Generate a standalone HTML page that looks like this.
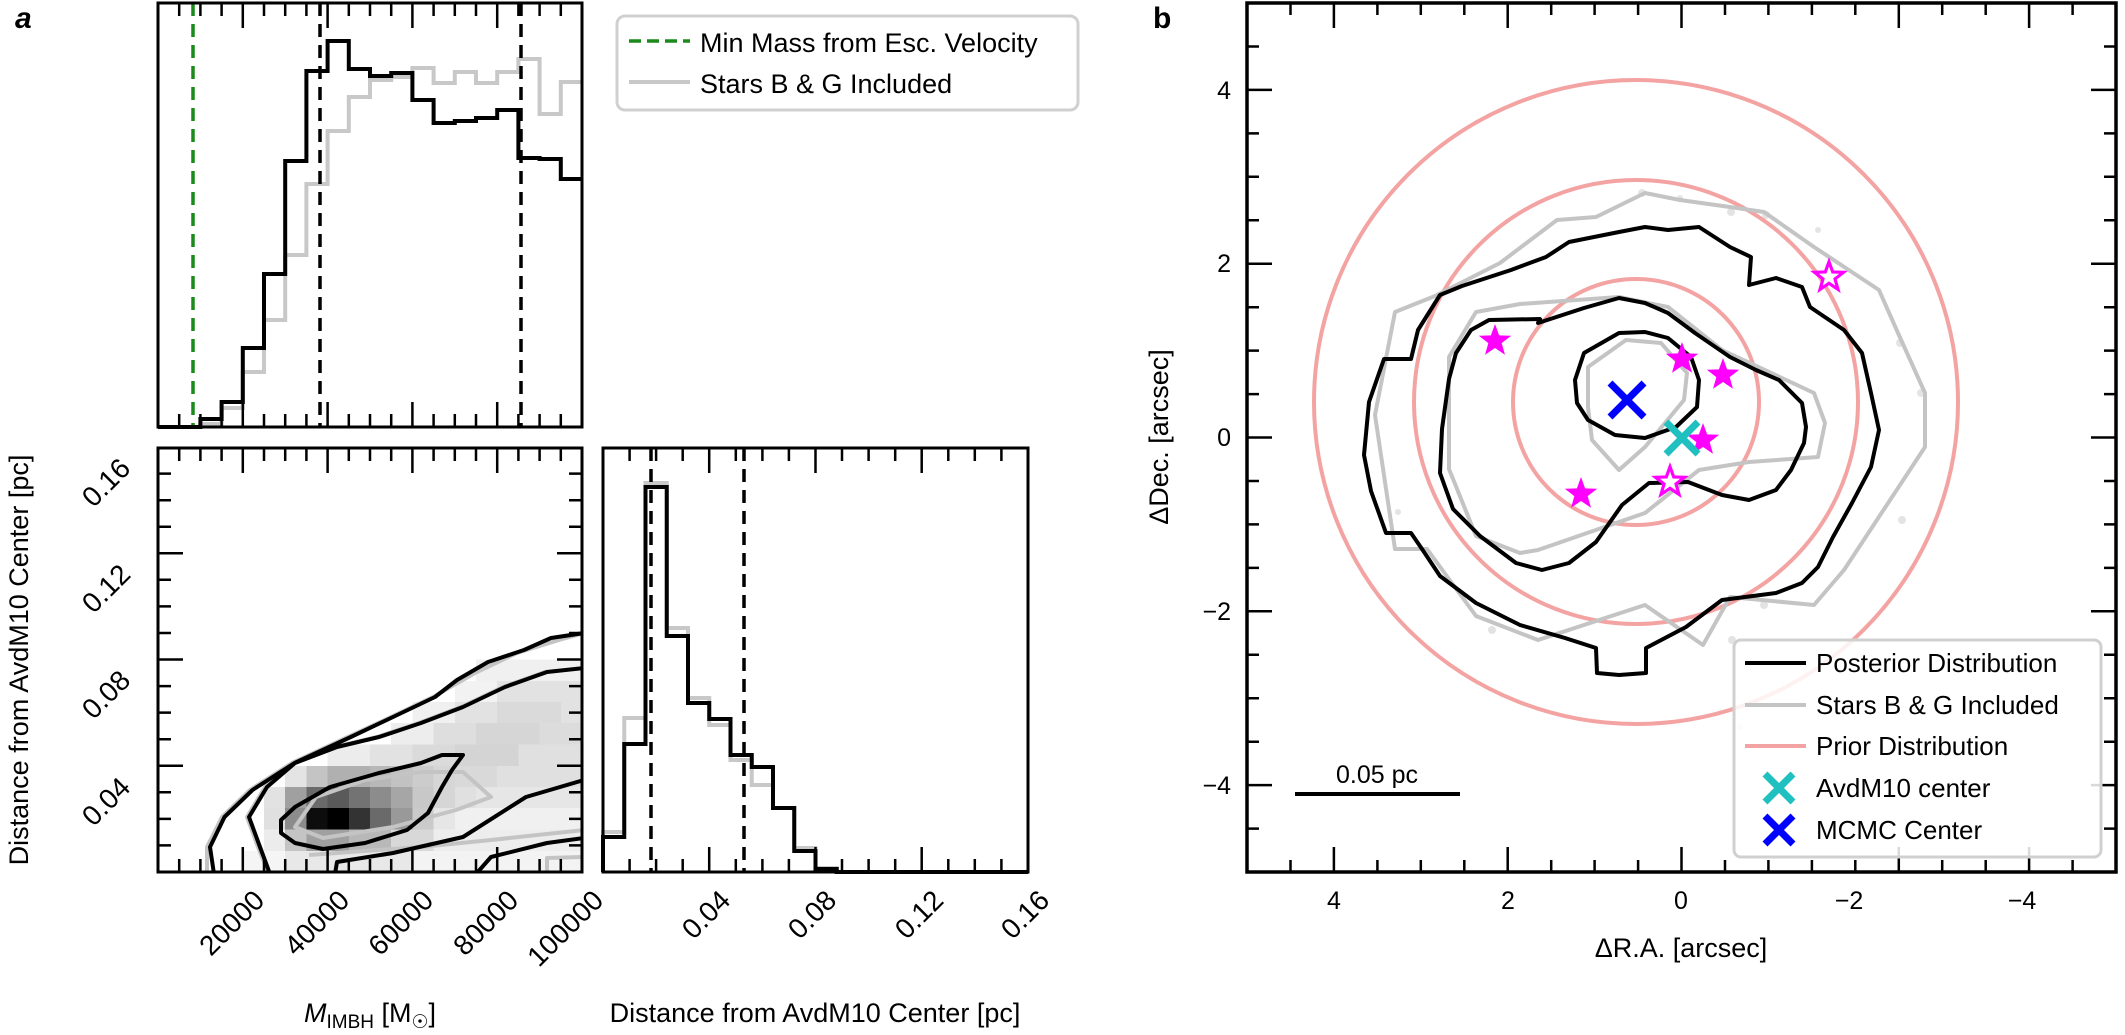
<!DOCTYPE html>
<html><head><meta charset="utf-8"><style>
html,body{margin:0;padding:0;background:#fff}
svg{display:block}
text{font-family:"Liberation Sans",Arial,sans-serif;fill:#000}
</style></head><body>
<svg width="2125" height="1035" viewBox="0 0 2125 1035" xmlns="http://www.w3.org/2000/svg">
<defs>
<path id="st" d="M0,-17 L4.11,-5.66 L16.17,-5.25 L6.66,2.16 L9.99,13.75 L0,7 L-9.99,13.75 L-6.66,2.16 L-16.17,-5.25 L-4.11,-5.66Z"/>
<clipPath id="cb"><rect x="1247" y="3" width="869" height="869"/></clipPath>
<clipPath id="c2"><rect x="158" y="448" width="424" height="424"/></clipPath>
</defs>
<rect width="2125" height="1035" fill="#fff"/>

<!-- ===== Panel a ===== -->
<text x="15" y="28" font-size="30" font-weight="bold" font-style="italic">a</text>

<path d="M193,3 V427" stroke="#1a8a1a" stroke-width="3.5" stroke-dasharray="13,8" fill="none"/>
<path d="M158,427 H200.4 V424 H221.6 V408 H242.8 V372 H264 V320 H285.2 V255 H306.4 V184 H327.6 V131 H348.8 V97 H370 V80 H391.2 V77 H412.4 V68 H433.6 V83 H454.8 V72 H476 V83 H497.2 V72 H518.4 V59 H539.6 V114 H560.8 V82 H582" stroke="#c8c8c8" stroke-width="4" fill="none"/>
<path d="M158,427 H200.4 V419 H221.6 V402 H242.8 V348 H264 V274 H285.2 V161 H306.4 V71 H327.6 V41 H348.8 V69 H370 V76 H391.2 V73 H412.4 V100 H433.6 V123 H454.8 V121 H476 V118 H497.2 V110 H518.4 V158 H539.6 V159 H560.8 V179 H582" stroke="#000" stroke-width="4" fill="none"/>
<path d="M320,3 V427 M521,3 V427" stroke="#000" stroke-width="3.5" stroke-dasharray="13,8" fill="none"/>
<rect x="158" y="3" width="424" height="424" fill="none" stroke="#000" stroke-width="3"/>
<path stroke="#000" stroke-width="2.5" fill="none" d="
M179.2,3v13M200.4,3v13M221.6,3v13M242.8,3v25M264,3v13M285.2,3v13M306.4,3v13M327.6,3v25M348.8,3v13M370,3v13M391.2,3v13M412.4,3v25M433.6,3v13M454.8,3v13M476,3v13M497.2,3v25M518.4,3v13M539.6,3v13M560.8,3v13
M179.2,427v-13M200.4,427v-13M221.6,427v-13M242.8,427v-25M264,427v-13M285.2,427v-13M306.4,427v-13M327.6,427v-25M348.8,427v-13M370,427v-13M391.2,427v-13M412.4,427v-25M433.6,427v-13M454.8,427v-13M476,427v-13M497.2,427v-25M518.4,427v-13M539.6,427v-13M560.8,427v-13"/>

<rect x="617" y="16" width="461" height="94" rx="8" fill="#fff" stroke="#d0d0d0" stroke-width="3"/>
<path d="M629,41 H690" stroke="#1a8a1a" stroke-width="3.5" stroke-dasharray="12,6"/>
<path d="M629,82 H690" stroke="#c8c8c8" stroke-width="4"/>
<text x="700" y="52" font-size="27">Min Mass from Esc. Velocity</text>
<text x="700" y="93" font-size="27">Stars B &amp; G Included</text>

<g clip-path="url(#c2)">
<g shape-rendering="crispEdges">
<rect x="242.8" y="851" width="42.4" height="21" fill="#f5f5f5"/>
<rect x="285.2" y="851" width="127.2" height="21" fill="#e8e8e8"/>
<rect x="412.4" y="851" width="169.6" height="21" fill="#f3f3f3"/>
<rect x="264" y="829.5" width="21.2" height="21.5" fill="#ececec"/>
<rect x="285.2" y="829.5" width="21.2" height="21.5" fill="#c4c4c4"/>
<rect x="306.4" y="829.5" width="42.4" height="21.5" fill="#a0a0a0"/>
<rect x="348.8" y="829.5" width="42.4" height="21.5" fill="#b8b8b8"/>
<rect x="391.2" y="829.5" width="42.4" height="21.5" fill="#d8d8d8"/>
<rect x="433.6" y="829.5" width="148.4" height="21.5" fill="#ededed"/>
<rect x="264" y="808" width="21.2" height="21.5" fill="#e0e0e0"/>
<rect x="285.2" y="808" width="21.2" height="21.5" fill="#8c8c8c"/>
<rect x="306.4" y="808" width="21.2" height="21.5" fill="#0d0d0d"/>
<rect x="327.6" y="808" width="21.2" height="21.5" fill="#000"/>
<rect x="348.8" y="808" width="21.2" height="21.5" fill="#333"/>
<rect x="370" y="808" width="21.2" height="21.5" fill="#6a6a6a"/>
<rect x="391.2" y="808" width="21.2" height="21.5" fill="#999"/>
<rect x="412.4" y="808" width="21.2" height="21.5" fill="#cacaca"/>
<rect x="433.6" y="808" width="21.2" height="21.5" fill="#e6e6e6"/>
<rect x="454.8" y="808" width="127.2" height="21.5" fill="#f0f0f0"/>
<rect x="264" y="787" width="21.2" height="21" fill="#e2e2e2"/>
<rect x="285.2" y="787" width="21.2" height="21" fill="#a0a0a0"/>
<rect x="306.4" y="787" width="21.2" height="21" fill="#6a6a6a"/>
<rect x="327.6" y="787" width="21.2" height="21" fill="#5a5a5a"/>
<rect x="348.8" y="787" width="21.2" height="21" fill="#737373"/>
<rect x="370" y="787" width="21.2" height="21" fill="#8c8c8c"/>
<rect x="391.2" y="787" width="21.2" height="21" fill="#a6a6a6"/>
<rect x="412.4" y="787" width="21.2" height="21" fill="#c8c8c8"/>
<rect x="433.6" y="787" width="21.2" height="21" fill="#d6d6d6"/>
<rect x="454.8" y="787" width="21.2" height="21" fill="#e0e0e0"/>
<rect x="476" y="787" width="106" height="21" fill="#e6e6e6"/>
<rect x="285.2" y="766" width="21.2" height="21" fill="#e4e4e4"/>
<rect x="306.4" y="766" width="21.2" height="21" fill="#c4c4c4"/>
<rect x="327.6" y="766" width="42.4" height="21" fill="#b0b0b0"/>
<rect x="370" y="766" width="21.2" height="21" fill="#b8b8b8"/>
<rect x="391.2" y="766" width="21.2" height="21" fill="#c2c2c2"/>
<rect x="412.4" y="766" width="21.2" height="21" fill="#cccccc"/>
<rect x="433.6" y="766" width="21.2" height="21" fill="#d6d6d6"/>
<rect x="454.8" y="766" width="42.4" height="21" fill="#d9d9d9"/>
<rect x="497.2" y="766" width="84.8" height="21" fill="#e0e0e0"/>
<rect x="327.6" y="744.5" width="42.4" height="21.5" fill="#ececec"/>
<rect x="370" y="744.5" width="42.4" height="21.5" fill="#e2e2e2"/>
<rect x="412.4" y="744.5" width="42.4" height="21.5" fill="#dadada"/>
<rect x="454.8" y="744.5" width="63.6" height="21.5" fill="#d4d4d4"/>
<rect x="518.4" y="744.5" width="63.6" height="21.5" fill="#e0e0e0"/>
<rect x="391.2" y="723" width="42.4" height="21.5" fill="#ededed"/>
<rect x="433.6" y="723" width="42.4" height="21.5" fill="#dedede"/>
<rect x="476" y="723" width="63.6" height="21.5" fill="#d6d6d6"/>
<rect x="539.6" y="723" width="42.4" height="21.5" fill="#dcdcdc"/>
<rect x="412.4" y="702" width="42.4" height="21" fill="#f0f0f0"/>
<rect x="454.8" y="702" width="42.4" height="21" fill="#e2e2e2"/>
<rect x="497.2" y="702" width="63.6" height="21" fill="#dadada"/>
<rect x="560.8" y="702" width="21.2" height="21" fill="#e2e2e2"/>
<rect x="454.8" y="681" width="42.4" height="21" fill="#f2f2f2"/>
<rect x="497.2" y="681" width="84.8" height="21" fill="#e2e2e2"/>
<rect x="476" y="659.5" width="106" height="21.5" fill="#f0f0f0"/>
</g>
<g stroke="#c4c4c4" stroke-width="4" fill="none" stroke-linejoin="round">
<path d="M207,872 L207,847 L222,817 L250,790 L292,763 L348,737 L391,717 L433,697 L475,673 L517,653 L559,640 L584,633"/>
<path d="M268,872 L258,847 L247,817 L265,787 L293,763 L335,747 L377,737 L419,723 L461,707 L503,687 L545,672 L584,668"/>
<path d="M295,827 L316,797 L365,780 L421,772 L463,772 L491,797 L456,810 L393,827 L323,838 Z"/>
<path d="M309,855 L421,847 L491,840 L584,830"/>
<path d="M547,872 L547,858 L584,857"/>
</g>
<g stroke="#000" stroke-width="4" fill="none" stroke-linejoin="round">
<path d="M214,874 L210,847 L224.5,817 L252.5,790 L294.6,763 L350.8,737 L393,717 L435,697 L457,680 L488,662 L524,650 L551,638 L584,633"/>
<path d="M476,874 L491,857 L547,843 L584,838"/>
<path d="M584,668 L547,672 L505,687 L463,707 L421,723 L379,737 L337,747 L295,763 L267,787 L249,817 L260,847 L270,874"/>
<path d="M335,874 L337,862 L393,853 L463,837 L526,797 L584,780"/>
<path d="M281,820 L295,807 L330,787 L379,773 L421,763 L442,755 L463,755 L452,770 L442,787 L428,813 L407,830 L365,843 L323,849 L295,843 L281,833 Z"/>
</g>
</g>
<rect x="158" y="448" width="424" height="424" fill="none" stroke="#000" stroke-width="3"/>
<path stroke="#000" stroke-width="2.5" fill="none" d="
M179.2,448v13M200.4,448v13M221.6,448v13M242.8,448v25M264,448v13M285.2,448v13M306.4,448v13M327.6,448v25M348.8,448v13M370,448v13M391.2,448v13M412.4,448v25M433.6,448v13M454.8,448v13M476,448v13M497.2,448v25M518.4,448v13M539.6,448v13M560.8,448v13
M179.2,872v-13M200.4,872v-13M221.6,872v-13M242.8,872v-25M264,872v-13M285.2,872v-13M306.4,872v-13M327.6,872v-25M348.8,872v-13M370,872v-13M391.2,872v-13M412.4,872v-25M433.6,872v-13M454.8,872v-13M476,872v-13M497.2,872v-25M518.4,872v-13M539.6,872v-13M560.8,872v-13
M158,845.4h13M158,818.9h13M158,792.3h13M158,765.8h25M158,739.2h13M158,712.6h13M158,686.1h13M158,659.5h25M158,633h13M158,606.4h13M158,579.8h13M158,553.3h25M158,526.7h13M158,500.2h13M158,473.6h13
M582,845.4h-13M582,818.9h-13M582,792.3h-13M582,765.8h-25M582,739.2h-13M582,712.6h-13M582,686.1h-13M582,659.5h-25M582,633h-13M582,606.4h-13M582,579.8h-13M582,553.3h-25M582,526.7h-13M582,500.2h-13M582,473.6h-13"/>

<path d="M603,872 V832 H624.25 V718 H645.5 V483 H666.75 V628 H688 V698 H709.25 V725 H730.5 V760 H751.75 V785 H773 V808 H794.25 V848 H815.5 V868 H836.75 V872 H1028" stroke="#c8c8c8" stroke-width="4" fill="none"/>
<path d="M603,872 V837 H624.25 V744 H645.5 V487 H666.75 V636 H688 V703 H709.25 V719 H730.5 V755 H751.75 V767 H773 V808 H794.25 V851 H815.5 V869 H836.75 V872 H1028" stroke="#000" stroke-width="4" fill="none"/>
<path d="M651,448 V872 M744,448 V872" stroke="#000" stroke-width="3.5" stroke-dasharray="13,8" fill="none"/>
<rect x="603" y="448" width="425" height="424" fill="none" stroke="#000" stroke-width="3"/>
<path stroke="#000" stroke-width="2.5" fill="none" d="
M629.6,448v13M656.1,448v13M682.7,448v13M709.2,448v25M735.8,448v13M762.4,448v13M788.9,448v13M815.5,448v25M842,448v13M868.6,448v13M895.2,448v13M921.7,448v25M948.3,448v13M974.8,448v13M1001.4,448v13
M629.6,872v-13M656.1,872v-13M682.7,872v-13M709.2,872v-25M735.8,872v-13M762.4,872v-13M788.9,872v-13M815.5,872v-25M842,872v-13M868.6,872v-13M895.2,872v-13M921.7,872v-25M948.3,872v-13M974.8,872v-13M1001.4,872v-13"/>

<g font-size="28">
<text transform="translate(132,470) rotate(-45)" text-anchor="end">0.16</text>
<text transform="translate(132,576) rotate(-45)" text-anchor="end">0.12</text>
<text transform="translate(132,682) rotate(-45)" text-anchor="end">0.08</text>
<text transform="translate(132,789) rotate(-45)" text-anchor="end">0.04</text>
<text transform="translate(266,902) rotate(-45)" text-anchor="end">20000</text>
<text transform="translate(351,902) rotate(-45)" text-anchor="end">40000</text>
<text transform="translate(435,902) rotate(-45)" text-anchor="end">60000</text>
<text transform="translate(520,902) rotate(-45)" text-anchor="end">80000</text>
<text transform="translate(605,902) rotate(-45)" text-anchor="end">100000</text>
<text transform="translate(732,902) rotate(-45)" text-anchor="end">0.04</text>
<text transform="translate(838,902) rotate(-45)" text-anchor="end">0.08</text>
<text transform="translate(945,902) rotate(-45)" text-anchor="end">0.12</text>
<text transform="translate(1051,902) rotate(-45)" text-anchor="end">0.16</text>
</g>
<text transform="translate(28,660) rotate(-90)" text-anchor="middle" font-size="27">Distance from AvdM10 Center [pc]</text>
<text x="370" y="1022" text-anchor="middle" font-size="27"><tspan font-style="italic">M</tspan><tspan font-size="19" dy="6">IMBH</tspan><tspan dy="-6"> [M</tspan><tspan font-size="19" dy="6">☉</tspan><tspan dy="-6">]</tspan></text>
<text x="815" y="1022" text-anchor="middle" font-size="27">Distance from AvdM10 Center [pc]</text>

<!-- ===== Panel b ===== -->
<text x="1153" y="28" font-size="30" font-weight="bold">b</text>
<g clip-path="url(#cb)">
<g fill="#d8d8d8" opacity="0.7">
<circle cx="1642" cy="193" r="4"/><circle cx="1680" cy="198" r="3"/><circle cx="1731" cy="212" r="4"/><circle cx="1766" cy="215" r="4"/><circle cx="1818" cy="230" r="3"/><circle cx="1900" cy="343" r="4"/><circle cx="1921" cy="393" r="4"/><circle cx="1902" cy="520" r="4"/><circle cx="1764" cy="605" r="4"/><circle cx="1732" cy="640" r="4"/><circle cx="1492" cy="630" r="4"/><circle cx="1398" cy="512" r="3"/><circle cx="1740" cy="727" r="3"/>
</g>
<g stroke="#f4a3a3" stroke-width="4" fill="none">
<circle cx="1636" cy="402" r="123"/><circle cx="1636" cy="402" r="222"/><circle cx="1636" cy="402" r="322"/>
</g>
<g stroke="#c4c4c4" stroke-width="4" fill="none" stroke-linejoin="round">
<path d="M1395,312 L1375,415 L1395,549 L1427,549 L1476,616 L1538,640 L1645,605 L1703,645 L1730,597 L1814,605 L1844,570 L1925,447 L1925,393 L1898,333 L1879,290 L1814,247 L1764,212 L1730,207 L1680,200 L1645,193 L1596,217 L1557,220 L1500,263 L1435,296 Z"/>
<path d="M1619,297 L1668,307 L1722,350 L1814,393 L1825,423 L1818,457 L1749,462 L1699,470 L1645,513 L1538,550 L1520,553 L1476,536 L1449,469 L1449,357 L1476,312 L1520,304 Z"/>
<path d="M1588,367 L1626,340 L1661,343 L1687,373 L1684,400 L1665,423 L1645,447 L1619,470 L1592,440 L1588,407 Z"/>
</g>
<g stroke="#000" stroke-width="4" fill="none" stroke-linejoin="round">
<path d="M1575,380 L1584,353 L1619,333 L1645,332 L1668,338 L1691,357 L1699,380 L1697,407 L1676,427 L1645,438 L1615,435 L1588,420 L1577,403 Z"/>
<path d="M1540,319 L1489,320 L1471,330 L1456,353 L1449,379 L1442,429 L1440,473 L1453,509 L1480,536 L1516,563 L1542,570 L1569,563 L1596,542 L1622,505 L1649,483 L1688,482 L1722,495 L1749,500 L1776,490 L1791,470 L1804,443 L1806,427 L1802,403 L1779,380 L1756,370 L1730,357 L1695,333 L1668,313 L1645,303 L1619,298 L1584,308 L1538,323 Z"/>
<path d="M1546,257 L1511,270 L1462,286 L1440,295 L1418,330 L1411,359 L1384,359 L1369,402 L1364,455 L1371,491 L1386,533 L1411,533 L1422,549 L1440,576 L1476,603 L1520,625 L1565,638 L1596,648 L1597,673 L1619,675 L1646,673 L1646,648 L1686,627 L1722,600 L1776,593 L1802,583 L1818,567 L1833,537 L1852,503 L1871,467 L1879,430 L1871,393 L1862,353 L1844,330 L1810,307 L1802,287 L1776,278 L1749,285 L1751,257 L1730,247 L1699,227 L1668,230 L1645,227 L1619,232 L1569,242 Z"/>
</g>
</g>
<g fill="#ff00ff">
<use href="#st" transform="translate(1495,341)"/>
<use href="#st" transform="translate(1581,494)"/>
<use href="#st" transform="translate(1682,359)"/>
<use href="#st" transform="translate(1723,375)"/>
<use href="#st" transform="translate(1703,440)"/>
</g>
<g fill="#fff" stroke="#ff00ff" stroke-width="3.5">
<use href="#st" transform="translate(1829,277) scale(0.9)"/>
<use href="#st" transform="translate(1670,482) scale(0.9)"/>
</g>
<path d="M1610,383 L1644,417 M1644,383 L1610,417" stroke="#0000ff" stroke-width="7"/>
<path d="M1666,422 L1698,454 M1698,422 L1666,454" stroke="#20c0c0" stroke-width="7"/>

<rect x="1247" y="3" width="869" height="869" fill="none" stroke="#000" stroke-width="3.5"/>
<path stroke="#000" stroke-width="2.5" fill="none" d="
M1290.5,3v12M1333.9,3v25M1377.4,3v12M1420.8,3v12M1464.3,3v12M1507.7,3v25M1551.2,3v12M1594.6,3v12M1638.1,3v12M1681.5,3v25M1725,3v12M1768.4,3v12M1811.9,3v12M1855.3,3v12M1898.8,3v25M1942.2,3v12M1985.7,3v12M2029.1,3v25M2072.6,3v12
M1290.5,872v-12M1333.9,872v-25M1377.4,872v-12M1420.8,872v-12M1464.3,872v-12M1507.7,872v-25M1551.2,872v-12M1594.6,872v-12M1638.1,872v-12M1681.5,872v-25M1725,872v-12M1768.4,872v-12M1811.9,872v-12M1855.3,872v-12M1898.8,872v-25M1942.2,872v-12M1985.7,872v-12M2029.1,872v-25M2072.6,872v-12
M1247,46.5h12M1247,89.9h25M1247,133.4h12M1247,176.8h12M1247,220.3h12M1247,263.7h25M1247,307.2h12M1247,350.6h12M1247,394.1h12M1247,437.5h25M1247,481h12M1247,524.4h12M1247,567.9h12M1247,611.3h25M1247,654.8h12M1247,698.2h12M1247,741.7h12M1247,785.1h25M1247,828.6h12
M2116,46.5h-12M2116,89.9h-25M2116,133.4h-12M2116,176.8h-12M2116,220.3h-12M2116,263.7h-25M2116,307.2h-12M2116,350.6h-12M2116,394.1h-12M2116,437.5h-25M2116,481h-12M2116,524.4h-12M2116,567.9h-12M2116,611.3h-25M2116,654.8h-12M2116,698.2h-12M2116,741.7h-12M2116,785.1h-25M2116,828.6h-12"/>
<g font-size="25">
<text x="1231" y="99" text-anchor="end">4</text>
<text x="1231" y="272" text-anchor="end">2</text>
<text x="1231" y="446" text-anchor="end">0</text>
<text x="1231" y="620" text-anchor="end">−2</text>
<text x="1231" y="794" text-anchor="end">−4</text>
<text x="1334" y="909" text-anchor="middle">4</text>
<text x="1508" y="909" text-anchor="middle">2</text>
<text x="1681" y="909" text-anchor="middle">0</text>
<text x="1849" y="909" text-anchor="middle">−2</text>
<text x="2022" y="909" text-anchor="middle">−4</text>
</g>
<text x="1681" y="957" text-anchor="middle" font-size="27">ΔR.A. [arcsec]</text>
<text transform="translate(1168,437) rotate(-90)" text-anchor="middle" font-size="27">ΔDec. [arcsec]</text>

<path d="M1295,794 H1460" stroke="#000" stroke-width="4"/>
<text x="1377" y="783" text-anchor="middle" font-size="25">0.05 pc</text>

<rect x="1734" y="640" width="367" height="217" rx="7" fill="#fff" fill-opacity="0.85" stroke="#d0d0d0" stroke-width="3"/>
<path d="M1745,663 H1806" stroke="#000" stroke-width="4"/>
<path d="M1745,705 H1806" stroke="#c4c4c4" stroke-width="4"/>
<path d="M1745,746 H1806" stroke="#f4a3a3" stroke-width="4"/>
<path d="M1765,774 L1793,802 M1793,774 L1765,802" stroke="#20c0c0" stroke-width="7"/>
<path d="M1765,816 L1793,844 M1793,816 L1765,844" stroke="#0000ff" stroke-width="7"/>
<g font-size="26">
<text x="1816" y="672">Posterior Distribution</text>
<text x="1816" y="714">Stars B &amp; G Included</text>
<text x="1816" y="755">Prior Distribution</text>
<text x="1816" y="797">AvdM10 center</text>
<text x="1816" y="839">MCMC Center</text>
</g>
</svg>
</body></html>
